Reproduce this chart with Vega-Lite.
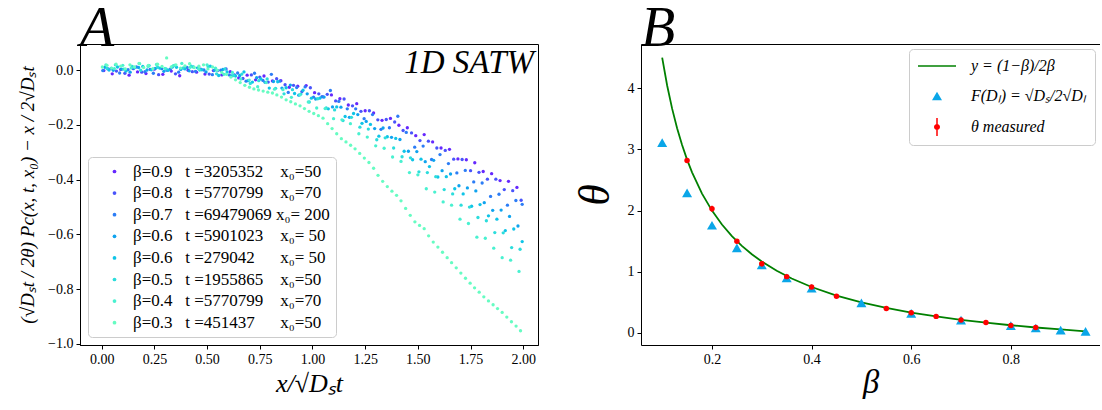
{
"$schema": "https://vega.github.io/schema/vega-lite/v6.json",
"background": "white",
"padding": {"left": 18, "top": 0, "right": 0, "bottom": 0},
"spacing": 34,
"resolve": {"scale": {"color": "independent", "shape": "independent", "x": "independent", "y": "independent"}, "legend": {"color": "independent", "shape": "independent"}},
"config": {
  "font": "Liberation Serif",
  "view": {"stroke": "#000", "strokeWidth": 1},
  "axis": {"grid": false, "domainColor": "#000", "tickColor": "#000", "labelColor": "#000", "titleColor": "#000", "labelFont": "Liberation Serif", "labelFontSize": 14, "tickSize": 4, "labelPadding": 3, "titleFont": "Liberation Serif", "titleFontWeight": "normal", "titleFontStyle": "italic"},
  "legend": {"labelFont": "Liberation Serif", "labelColor": "#000", "labelLimit": 500}
},
"hconcat": [
{
  "width": 458, "height": 301,
  "title": {"text": "A", "anchor": "start", "frame": "group", "fontSize": 56, "fontStyle": "italic", "fontWeight": "normal", "font": "Liberation Serif", "color": "#000", "offset": -14},
  "layer": [
  {
    "data": {"values": [
{"s":"a","x":0.01,"y":-0.001},{"s":"a","x":0.05,"y":-0.013},{"s":"a","x":0.09,"y":0.003},{"s":"a","x":0.13,"y":-0.018},{"s":"a","x":0.17,"y":-0.006},{"s":"a","x":0.21,"y":-0.012},{"s":"a","x":0.25,"y":0.004},{"s":"a","x":0.29,"y":-0.015},{"s":"a","x":0.33,"y":-0.003},{"s":"a","x":0.37,"y":-0.02},
{"s":"a","x":0.41,"y":0.0},{"s":"a","x":0.45,"y":-0.007},{"s":"a","x":0.49,"y":-0.014},{"s":"a","x":0.53,"y":-0.001},{"s":"a","x":0.57,"y":-0.017},{"s":"a","x":0.61,"y":-0.005},{"s":"a","x":0.65,"y":-0.028},{"s":"a","x":0.69,"y":-0.018},{"s":"a","x":0.73,"y":-0.035},{"s":"a","x":0.77,"y":-0.021},
{"s":"a","x":0.81,"y":-0.039},{"s":"a","x":0.85,"y":-0.038},{"s":"a","x":0.89,"y":-0.062},{"s":"a","x":0.93,"y":-0.058},{"s":"a","x":0.97,"y":-0.056},{"s":"a","x":1.01,"y":-0.082},{"s":"a","x":1.05,"y":-0.097},{"s":"a","x":1.09,"y":-0.09},{"s":"a","x":1.13,"y":-0.104},{"s":"a","x":1.17,"y":-0.127},
{"s":"a","x":1.21,"y":-0.122},{"s":"a","x":1.25,"y":-0.148},{"s":"a","x":1.29,"y":-0.156},{"s":"a","x":1.33,"y":-0.183},{"s":"a","x":1.37,"y":-0.176},{"s":"a","x":1.41,"y":-0.201},{"s":"a","x":1.45,"y":-0.21},{"s":"a","x":1.49,"y":-0.239},{"s":"a","x":1.53,"y":-0.235},{"s":"a","x":1.57,"y":-0.262},
{"s":"a","x":1.61,"y":-0.284},{"s":"a","x":1.65,"y":-0.289},{"s":"a","x":1.69,"y":-0.324},{"s":"a","x":1.73,"y":-0.327},{"s":"a","x":1.77,"y":-0.338},{"s":"a","x":1.81,"y":-0.37},{"s":"a","x":1.85,"y":-0.378},{"s":"a","x":1.89,"y":-0.403},{"s":"a","x":1.93,"y":-0.406},{"s":"a","x":1.97,"y":-0.428},
{"s":"b","x":0.03,"y":0.005},{"s":"b","x":0.07,"y":-0.003},{"s":"b","x":0.11,"y":-0.011},{"s":"b","x":0.15,"y":0.006},{"s":"b","x":0.19,"y":-0.007},{"s":"b","x":0.23,"y":0.003},{"s":"b","x":0.27,"y":-0.016},{"s":"b","x":0.31,"y":0.0},{"s":"b","x":0.35,"y":-0.013},{"s":"b","x":0.39,"y":0.008},
{"s":"b","x":0.43,"y":-0.005},{"s":"b","x":0.47,"y":0.004},{"s":"b","x":0.51,"y":-0.014},{"s":"b","x":0.55,"y":-0.001},{"s":"b","x":0.59,"y":0.005},{"s":"b","x":0.63,"y":-0.017},{"s":"b","x":0.67,"y":-0.03},{"s":"b","x":0.71,"y":-0.017},{"s":"b","x":0.75,"y":-0.025},{"s":"b","x":0.79,"y":-0.043},
{"s":"b","x":0.83,"y":-0.031},{"s":"b","x":0.87,"y":-0.053},{"s":"b","x":0.91,"y":-0.055},{"s":"b","x":0.95,"y":-0.078},{"s":"b","x":0.99,"y":-0.064},{"s":"b","x":1.03,"y":-0.086},{"s":"b","x":1.07,"y":-0.088},{"s":"b","x":1.11,"y":-0.112},{"s":"b","x":1.15,"y":-0.105},{"s":"b","x":1.19,"y":-0.13},
{"s":"b","x":1.23,"y":-0.15},{"s":"b","x":1.27,"y":-0.148},{"s":"b","x":1.31,"y":-0.181},{"s":"b","x":1.35,"y":-0.18},{"s":"b","x":1.39,"y":-0.189},{"s":"b","x":1.43,"y":-0.22},{"s":"b","x":1.47,"y":-0.229},{"s":"b","x":1.51,"y":-0.257},{"s":"b","x":1.55,"y":-0.259},{"s":"b","x":1.59,"y":-0.284},
{"s":"b","x":1.63,"y":-0.293},{"s":"b","x":1.67,"y":-0.325},{"s":"b","x":1.71,"y":-0.326},{"s":"b","x":1.75,"y":-0.367},{"s":"b","x":1.79,"y":-0.373},{"s":"b","x":1.83,"y":-0.398},{"s":"b","x":1.87,"y":-0.398},{"s":"b","x":1.91,"y":-0.436},{"s":"b","x":1.95,"y":-0.44},{"s":"b","x":1.99,"y":-0.475},
{"s":"c","x":0.005,"y":-0.001},{"s":"c","x":0.045,"y":0.007},{"s":"c","x":0.085,"y":-0.01},{"s":"c","x":0.125,"y":0.002},{"s":"c","x":0.165,"y":0.012},{"s":"c","x":0.205,"y":-0.005},{"s":"c","x":0.245,"y":-0.011},{"s":"c","x":0.285,"y":0.006},{"s":"c","x":0.325,"y":0.004},{"s":"c","x":0.365,"y":-0.007},
{"s":"c","x":0.405,"y":0.01},{"s":"c","x":0.445,"y":-0.004},{"s":"c","x":0.485,"y":0.001},{"s":"c","x":0.525,"y":-0.016},{"s":"c","x":0.565,"y":0.0},{"s":"c","x":0.605,"y":-0.017},{"s":"c","x":0.645,"y":-0.01},{"s":"c","x":0.685,"y":-0.04},{"s":"c","x":0.725,"y":-0.011},{"s":"c","x":0.765,"y":-0.037},
{"s":"c","x":0.805,"y":-0.015},{"s":"c","x":0.845,"y":-0.04},{"s":"c","x":0.885,"y":-0.081},{"s":"c","x":0.925,"y":-0.063},{"s":"c","x":0.965,"y":-0.061},{"s":"c","x":1.005,"y":-0.098},{"s":"c","x":1.045,"y":-0.096},{"s":"c","x":1.085,"y":-0.074},{"s":"c","x":1.125,"y":-0.114},{"s":"c","x":1.165,"y":-0.141},
{"s":"c","x":1.205,"y":-0.141},{"s":"c","x":1.245,"y":-0.177},{"s":"c","x":1.285,"y":-0.162},{"s":"c","x":1.325,"y":-0.216},{"s":"c","x":1.365,"y":-0.21},{"s":"c","x":1.405,"y":-0.168},{"s":"c","x":1.445,"y":-0.227},{"s":"c","x":1.485,"y":-0.281},{"s":"c","x":1.525,"y":-0.277},{"s":"c","x":1.565,"y":-0.326},
{"s":"c","x":1.605,"y":-0.308},{"s":"c","x":1.645,"y":-0.341},{"s":"c","x":1.685,"y":-0.375},{"s":"c","x":1.725,"y":-0.366},{"s":"c","x":1.765,"y":-0.408},{"s":"c","x":1.805,"y":-0.412},{"s":"c","x":1.845,"y":-0.461},{"s":"c","x":1.885,"y":-0.453},{"s":"c","x":1.925,"y":-0.493},{"s":"c","x":1.965,"y":-0.476},{"s":"c","x":1.995,"y":-0.49},
{"s":"d","x":0.015,"y":0.011},{"s":"d","x":0.055,"y":0.0},{"s":"d","x":0.095,"y":0.004},{"s":"d","x":0.135,"y":-0.007},{"s":"d","x":0.175,"y":0.01},{"s":"d","x":0.215,"y":0.001},{"s":"d","x":0.255,"y":0.007},{"s":"d","x":0.295,"y":-0.004},{"s":"d","x":0.335,"y":0.012},{"s":"d","x":0.375,"y":0.003},
{"s":"d","x":0.415,"y":-0.002},{"s":"d","x":0.455,"y":0.009},{"s":"d","x":0.495,"y":-0.006},{"s":"d","x":0.535,"y":0.0},{"s":"d","x":0.575,"y":0.003},{"s":"d","x":0.615,"y":-0.021},{"s":"d","x":0.655,"y":-0.019},{"s":"d","x":0.695,"y":-0.038},{"s":"d","x":0.735,"y":-0.027},{"s":"d","x":0.775,"y":-0.044},
{"s":"d","x":0.815,"y":-0.041},{"s":"d","x":0.855,"y":-0.065},{"s":"d","x":0.895,"y":-0.054},{"s":"d","x":0.935,"y":-0.091},{"s":"d","x":0.975,"y":-0.086},{"s":"d","x":1.015,"y":-0.105},{"s":"d","x":1.055,"y":-0.098},{"s":"d","x":1.095,"y":-0.134},{"s":"d","x":1.135,"y":-0.135},{"s":"d","x":1.175,"y":-0.172},
{"s":"d","x":1.215,"y":-0.162},{"s":"d","x":1.255,"y":-0.187},{"s":"d","x":1.295,"y":-0.213},{"s":"d","x":1.335,"y":-0.211},{"s":"d","x":1.375,"y":-0.245},{"s":"d","x":1.415,"y":-0.253},{"s":"d","x":1.455,"y":-0.296},{"s":"d","x":1.495,"y":-0.297},{"s":"d","x":1.535,"y":-0.334},{"s":"d","x":1.575,"y":-0.329},
{"s":"d","x":1.615,"y":-0.367},{"s":"d","x":1.655,"y":-0.379},{"s":"d","x":1.695,"y":-0.422},{"s":"d","x":1.735,"y":-0.43},{"s":"d","x":1.775,"y":-0.441},{"s":"d","x":1.815,"y":-0.484},{"s":"d","x":1.855,"y":-0.512},{"s":"d","x":1.895,"y":-0.511},{"s":"d","x":1.935,"y":-0.534},{"s":"d","x":1.975,"y":-0.569},
{"s":"e","x":0.035,"y":0.001},{"s":"e","x":0.075,"y":0.012},{"s":"e","x":0.115,"y":-0.003},{"s":"e","x":0.155,"y":0.009},{"s":"e","x":0.195,"y":0.014},{"s":"e","x":0.235,"y":0.002},{"s":"e","x":0.275,"y":0.008},{"s":"e","x":0.315,"y":0.0},{"s":"e","x":0.355,"y":0.011},{"s":"e","x":0.395,"y":0.005},
{"s":"e","x":0.435,"y":0.012},{"s":"e","x":0.475,"y":0.002},{"s":"e","x":0.515,"y":0.015},{"s":"e","x":0.555,"y":-0.019},{"s":"e","x":0.595,"y":-0.006},{"s":"e","x":0.635,"y":-0.021},{"s":"e","x":0.675,"y":-0.006},{"s":"e","x":0.715,"y":-0.043},{"s":"e","x":0.755,"y":-0.032},{"s":"e","x":0.795,"y":-0.065},
{"s":"e","x":0.835,"y":-0.042},{"s":"e","x":0.875,"y":-0.064},{"s":"e","x":0.915,"y":-0.085},{"s":"e","x":0.955,"y":-0.073},{"s":"e","x":0.995,"y":-0.102},{"s":"e","x":1.035,"y":-0.102},{"s":"e","x":1.075,"y":-0.141},{"s":"e","x":1.115,"y":-0.134},{"s":"e","x":1.155,"y":-0.169},{"s":"e","x":1.195,"y":-0.158},
{"s":"e","x":1.235,"y":-0.194},{"s":"e","x":1.275,"y":-0.198},{"s":"e","x":1.315,"y":-0.241},{"s":"e","x":1.355,"y":-0.243},{"s":"e","x":1.395,"y":-0.249},{"s":"e","x":1.435,"y":-0.296},{"s":"e","x":1.475,"y":-0.327},{"s":"e","x":1.515,"y":-0.325},{"s":"e","x":1.555,"y":-0.352},{"s":"e","x":1.595,"y":-0.39},
{"s":"e","x":1.635,"y":-0.389},{"s":"e","x":1.675,"y":-0.433},{"s":"e","x":1.715,"y":-0.452},{"s":"e","x":1.755,"y":-0.497},{"s":"e","x":1.795,"y":-0.491},{"s":"e","x":1.835,"y":-0.532},{"s":"e","x":1.875,"y":-0.544},{"s":"e","x":1.915,"y":-0.586},{"s":"e","x":1.955,"y":-0.58},{"s":"e","x":1.995,"y":-0.626},
{"s":"f","x":0.025,"y":0.007},{"s":"f","x":0.065,"y":0.02},{"s":"f","x":0.105,"y":0.004},{"s":"f","x":0.145,"y":0.014},{"s":"f","x":0.185,"y":0.0},{"s":"f","x":0.225,"y":0.017},{"s":"f","x":0.265,"y":0.011},{"s":"f","x":0.305,"y":0.005},{"s":"f","x":0.345,"y":0.018},{"s":"f","x":0.385,"y":0.008},
{"s":"f","x":0.425,"y":0.015},{"s":"f","x":0.465,"y":0.001},{"s":"f","x":0.505,"y":0.013},{"s":"f","x":0.545,"y":-0.013},{"s":"f","x":0.585,"y":0.005},{"s":"f","x":0.625,"y":-0.019},{"s":"f","x":0.665,"y":-0.014},{"s":"f","x":0.705,"y":-0.048},{"s":"f","x":0.745,"y":-0.038},{"s":"f","x":0.785,"y":-0.032},
{"s":"f","x":0.825,"y":-0.066},{"s":"f","x":0.865,"y":-0.086},{"s":"f","x":0.905,"y":-0.071},{"s":"f","x":0.945,"y":-0.087},{"s":"f","x":0.985,"y":-0.116},{"s":"f","x":1.025,"y":-0.104},{"s":"f","x":1.065,"y":-0.138},{"s":"f","x":1.105,"y":-0.145},{"s":"f","x":1.145,"y":-0.184},{"s":"f","x":1.185,"y":-0.172},
{"s":"f","x":1.225,"y":-0.208},{"s":"f","x":1.265,"y":-0.215},{"s":"f","x":1.305,"y":-0.254},{"s":"f","x":1.345,"y":-0.247},{"s":"f","x":1.385,"y":-0.284},{"s":"f","x":1.425,"y":-0.316},{"s":"f","x":1.465,"y":-0.32},{"s":"f","x":1.505,"y":-0.371},{"s":"f","x":1.545,"y":-0.374},{"s":"f","x":1.585,"y":-0.389},
{"s":"f","x":1.625,"y":-0.436},{"s":"f","x":1.665,"y":-0.452},{"s":"f","x":1.705,"y":-0.493},{"s":"f","x":1.745,"y":-0.5},{"s":"f","x":1.785,"y":-0.538},{"s":"f","x":1.825,"y":-0.55},{"s":"f","x":1.865,"y":-0.593},{"s":"f","x":1.905,"y":-0.594},{"s":"f","x":1.945,"y":-0.648},{"s":"f","x":1.985,"y":-0.654},
{"s":"g","x":0.02,"y":0.02},{"s":"g","x":0.06,"y":0.006},{"s":"g","x":0.1,"y":0.018},{"s":"g","x":0.14,"y":0.008},{"s":"g","x":0.18,"y":0.024},{"s":"g","x":0.22,"y":0.014},{"s":"g","x":0.26,"y":0.021},{"s":"g","x":0.3,"y":0.007},{"s":"g","x":0.34,"y":0.017},{"s":"g","x":0.38,"y":0.025},
{"s":"g","x":0.42,"y":0.011},{"s":"g","x":0.46,"y":0.006},{"s":"g","x":0.5,"y":0.02},{"s":"g","x":0.54,"y":0.008},{"s":"g","x":0.58,"y":-0.015},{"s":"g","x":0.62,"y":-0.008},{"s":"g","x":0.66,"y":-0.032},{"s":"g","x":0.7,"y":-0.036},{"s":"g","x":0.74,"y":-0.06},{"s":"g","x":0.78,"y":-0.045},
{"s":"g","x":0.82,"y":-0.069},{"s":"g","x":0.86,"y":-0.071},{"s":"g","x":0.9,"y":-0.099},{"s":"g","x":0.94,"y":-0.09},{"s":"g","x":0.98,"y":-0.116},{"s":"g","x":1.02,"y":-0.138},{"s":"g","x":1.06,"y":-0.14},{"s":"g","x":1.1,"y":-0.177},{"s":"g","x":1.14,"y":-0.181},{"s":"g","x":1.18,"y":-0.195},
{"s":"g","x":1.22,"y":-0.232},{"s":"g","x":1.26,"y":-0.244},{"s":"g","x":1.3,"y":-0.276},{"s":"g","x":1.34,"y":-0.285},{"s":"g","x":1.38,"y":-0.317},{"s":"g","x":1.42,"y":-0.333},{"s":"g","x":1.46,"y":-0.374},{"s":"g","x":1.5,"y":-0.382},{"s":"g","x":1.54,"y":-0.433},{"s":"g","x":1.58,"y":-0.445},
{"s":"g","x":1.62,"y":-0.481},{"s":"g","x":1.66,"y":-0.493},{"s":"g","x":1.7,"y":-0.544},{"s":"g","x":1.74,"y":-0.56},{"s":"g","x":1.78,"y":-0.61},{"s":"g","x":1.82,"y":-0.614},{"s":"g","x":1.86,"y":-0.65},{"s":"g","x":1.9,"y":-0.685},{"s":"g","x":1.94,"y":-0.694},{"s":"g","x":1.98,"y":-0.735},
{"s":"h","x":0.003,"y":0.012},{"s":"h","x":0.025,"y":0.018},{"s":"h","x":0.047,"y":0.008},{"s":"h","x":0.068,"y":0.022},{"s":"h","x":0.09,"y":0.015},{"s":"h","x":0.112,"y":0.005},{"s":"h","x":0.134,"y":0.02},{"s":"h","x":0.156,"y":0.012},{"s":"h","x":0.177,"y":0.025},{"s":"h","x":0.199,"y":0.01},
{"s":"h","x":0.221,"y":0.018},{"s":"h","x":0.243,"y":0.006},{"s":"h","x":0.265,"y":0.022},{"s":"h","x":0.286,"y":0.014},{"s":"h","x":0.308,"y":0.045},{"s":"h","x":0.33,"y":0.012},{"s":"h","x":0.352,"y":0.02},{"s":"h","x":0.374,"y":0.008},{"s":"h","x":0.395,"y":0.016},{"s":"h","x":0.417,"y":0.024},
{"s":"h","x":0.439,"y":0.01},{"s":"h","x":0.461,"y":0.015},{"s":"h","x":0.483,"y":0.02},{"s":"h","x":0.504,"y":0.005},{"s":"h","x":0.526,"y":0.012},{"s":"h","x":0.548,"y":0.0},{"s":"h","x":0.57,"y":-0.008},{"s":"h","x":0.592,"y":-0.015},{"s":"h","x":0.613,"y":-0.025},{"s":"h","x":0.635,"y":-0.035},
{"s":"h","x":0.657,"y":-0.045},{"s":"h","x":0.679,"y":-0.055},{"s":"h","x":0.701,"y":-0.062},{"s":"h","x":0.722,"y":-0.068},{"s":"h","x":0.744,"y":-0.072},{"s":"h","x":0.766,"y":-0.076},{"s":"h","x":0.788,"y":-0.08},{"s":"h","x":0.81,"y":-0.083},{"s":"h","x":0.831,"y":-0.09},{"s":"h","x":0.853,"y":-0.098},
{"s":"h","x":0.875,"y":-0.108},{"s":"h","x":0.897,"y":-0.115},{"s":"h","x":0.919,"y":-0.123},{"s":"h","x":0.941,"y":-0.13},{"s":"h","x":0.962,"y":-0.14},{"s":"h","x":0.984,"y":-0.15},{"s":"h","x":1.006,"y":-0.158},{"s":"h","x":1.028,"y":-0.166},{"s":"h","x":1.05,"y":-0.175},{"s":"h","x":1.072,"y":-0.195},
{"s":"h","x":1.093,"y":-0.213},{"s":"h","x":1.115,"y":-0.232},{"s":"h","x":1.137,"y":-0.25},{"s":"h","x":1.159,"y":-0.262},{"s":"h","x":1.181,"y":-0.274},{"s":"h","x":1.202,"y":-0.287},{"s":"h","x":1.224,"y":-0.304},{"s":"h","x":1.246,"y":-0.321},{"s":"h","x":1.268,"y":-0.337},{"s":"h","x":1.29,"y":-0.358},
{"s":"h","x":1.311,"y":-0.384},{"s":"h","x":1.333,"y":-0.406},{"s":"h","x":1.355,"y":-0.425},{"s":"h","x":1.377,"y":-0.442},{"s":"h","x":1.399,"y":-0.457},{"s":"h","x":1.42,"y":-0.477},{"s":"h","x":1.442,"y":-0.505},{"s":"h","x":1.464,"y":-0.53},{"s":"h","x":1.486,"y":-0.554},{"s":"h","x":1.508,"y":-0.567},
{"s":"h","x":1.53,"y":-0.579},{"s":"h","x":1.551,"y":-0.605},{"s":"h","x":1.573,"y":-0.628},{"s":"h","x":1.595,"y":-0.646},{"s":"h","x":1.617,"y":-0.665},{"s":"h","x":1.639,"y":-0.685},{"s":"h","x":1.66,"y":-0.703},{"s":"h","x":1.682,"y":-0.722},{"s":"h","x":1.704,"y":-0.741},{"s":"h","x":1.726,"y":-0.76},
{"s":"h","x":1.748,"y":-0.778},{"s":"h","x":1.769,"y":-0.795},{"s":"h","x":1.791,"y":-0.811},{"s":"h","x":1.813,"y":-0.828},{"s":"h","x":1.835,"y":-0.843},{"s":"h","x":1.857,"y":-0.857},{"s":"h","x":1.878,"y":-0.871},{"s":"h","x":1.9,"y":-0.885},{"s":"h","x":1.922,"y":-0.902},{"s":"h","x":1.944,"y":-0.919},
{"s":"h","x":1.966,"y":-0.935},{"s":"h","x":1.987,"y":-0.952}
    ]},
    "mark": {"type": "point", "filled": true, "size": 11, "opacity": 1},
    "encoding": {
      "x": {"field": "x", "type": "quantitative", "scale": {"domain": [-0.103, 2.07], "nice": false, "zero": false},
            "axis": {"values": [0, 0.25, 0.5, 0.75, 1, 1.25, 1.5, 1.75, 2], "format": ".2f", "title": "x/√Dₛt", "titleFontSize": 26, "titlePadding": 4}},
      "y": {"field": "y", "type": "quantitative", "scale": {"domain": [-1.004, 0.096], "nice": false, "zero": false},
            "axis": {"values": [-1, -0.8, -0.6, -0.4, -0.2, 0], "format": ".1f", "title": "(√Dₛt / 2θ) Pc(x, t, x₀) − x / 2√Dₛt", "titleFontSize": 19, "titlePadding": 10}},
      "color": {"field": "s", "type": "nominal",
        "scale": {"domain": ["a","b","c","d","e","f","g","h"], "range": ["#6628fe","#4954fb","#2c7df6","#0fa3ef","#0fc4e7","#2cdddc","#49f1d0","#66fcc2"]},
        "legend": {"title": null, "orient": "bottom-left", "offset": 8, "symbolType": "circle", "symbolSize": 14, "labelFontSize": 17, "rowPadding": 3.6, "padding": 6, "symbolOffset": 12, "labelOffset": 10, "fillColor": "white", "strokeColor": "#cccccc", "cornerRadius": 4,
          "labelExpr": "datum.value=='a'?'β=0.9\u00a0\u00a0\u00a0t\u00a0=3205352\u00a0\u00a0\u00a0\u00a0x₀=50':datum.value=='b'?'β=0.8\u00a0\u00a0\u00a0t\u00a0=5770799\u00a0\u00a0\u00a0\u00a0x₀=70':datum.value=='c'?'β=0.7\u00a0\u00a0\u00a0t\u00a0=69479069\u00a0x₀=\u00a0200':datum.value=='d'?'β=0.6\u00a0\u00a0\u00a0t\u00a0=5901023\u00a0\u00a0\u00a0\u00a0x₀=\u00a050':datum.value=='e'?'β=0.6\u00a0\u00a0\u00a0t\u00a0=279042\u00a0\u00a0\u00a0\u00a0\u00a0\u00a0x₀=\u00a050':datum.value=='f'?'β=0.5\u00a0\u00a0\u00a0t\u00a0=1955865\u00a0\u00a0\u00a0\u00a0x₀=50':datum.value=='g'?'β=0.4\u00a0\u00a0\u00a0t\u00a0=5770799\u00a0\u00a0\u00a0\u00a0x₀=70':'β=0.3\u00a0\u00a0\u00a0t\u00a0=451437\u00a0\u00a0\u00a0\u00a0\u00a0\u00a0x₀=50'"}}
    }
  },
  {
    "data": {"values": [{}]},
    "mark": {"type": "text", "text": "1D SATW", "font": "Liberation Serif", "fontStyle": "italic", "fontSize": 33, "align": "right", "baseline": "alphabetic", "color": "#000"},
    "encoding": {"x": {"datum": 2.051, "type": "quantitative"}, "y": {"datum": -0.011, "type": "quantitative"}}
  }
  ]
},
{
  "width": 459, "height": 301,
  "view": {"stroke": null},
  "title": {"text": "B", "anchor": "start", "frame": "group", "fontSize": 56, "fontStyle": "italic", "fontWeight": "normal", "font": "Liberation Serif", "color": "#000", "offset": -14},
  "layer": [
  {
    "data": {"values": [
{"b":0.1,"v":4.5},{"b":0.11,"v":4.045},{"b":0.12,"v":3.667},{"b":0.13,"v":3.346},{"b":0.14,"v":3.071},{"b":0.15,"v":2.833},{"b":0.16,"v":2.625},{"b":0.18,"v":2.278},{"b":0.2,"v":2.0},{"b":0.22,"v":1.773},
{"b":0.24,"v":1.583},{"b":0.26,"v":1.423},{"b":0.28,"v":1.286},{"b":0.3,"v":1.167},{"b":0.33,"v":1.015},{"b":0.36,"v":0.889},{"b":0.4,"v":0.75},{"b":0.45,"v":0.611},{"b":0.5,"v":0.5},{"b":0.55,"v":0.409},
{"b":0.6,"v":0.333},{"b":0.65,"v":0.269},{"b":0.7,"v":0.214},{"b":0.75,"v":0.167},{"b":0.8,"v":0.125},{"b":0.85,"v":0.088},{"b":0.9,"v":0.056},{"b":0.95,"v":0.026}
    ]},
    "mark": {"type": "line", "strokeWidth": 1.8, "color": "#008000"},
    "encoding": {
      "x": {"field": "b", "type": "quantitative", "scale": {"domain": [0.0575, 0.979], "nice": false, "zero": false},
            "axis": {"orient": "top", "labels": false, "ticks": false, "domain": true, "title": null}},
      "y": {"field": "v", "type": "quantitative", "scale": {"domain": [-0.198, 4.724], "nice": false, "zero": false},
            "axis": {"values": [0, 1, 2, 3, 4], "format": "d", "title": "θ", "titleFontSize": 44, "titlePadding": 10}}
    }
  },
  {
    "layer": [
    {
      "data": {"values": [
{"s":"F","b":0.1,"v":3.11},{"s":"F","b":0.15,"v":2.29},{"s":"F","b":0.2,"v":1.76},{"s":"F","b":0.25,"v":1.39},{"s":"F","b":0.3,"v":1.11},{"s":"F","b":0.35,"v":0.9},{"s":"F","b":0.4,"v":0.73},
{"s":"F","b":0.5,"v":0.49},{"s":"F","b":0.6,"v":0.32},{"s":"F","b":0.7,"v":0.21},{"s":"F","b":0.8,"v":0.12},{"s":"F","b":0.85,"v":0.08},{"s":"F","b":0.9,"v":0.045},{"s":"F","b":0.95,"v":0.025}
      ]},
      "mark": {"type": "point", "filled": true, "size": 100, "opacity": 1},
      "encoding": {
        "x": {"field": "b", "type": "quantitative", "axis": {"orient": "bottom", "values": [0.2, 0.4, 0.6, 0.8], "format": ".1f", "title": "β", "titleFontSize": 33, "titlePadding": 0}},
        "y": {"field": "v", "type": "quantitative"},
        "color": {"field": "s", "type": "nominal", "scale": {"domain": ["L", "F", "M"], "range": ["#008000", "#0aa6e8", "#ff0000"]},
          "legend": {"title": null, "orient": "top-right", "offset": 5, "symbolSize": 100, "labelFontSize": 16, "labelFontStyle": "italic", "rowPadding": 14, "padding": 9, "symbolOffset": 11, "labelOffset": 26, "fillColor": "white", "strokeColor": "#cccccc", "cornerRadius": 4,
            "labelExpr": "datum.value=='L'?'y = (1−β)/2β':datum.value=='F'?'F(Dₗ) = √Dₛ/2√Dₗ':'θ  measured'"}},
        "shape": {"field": "s", "type": "nominal",
          "scale": {"domain": ["L", "F", "M"], "range": ["M-3.8,-0.16H3.8V0.16H-3.8Z", "triangle-up", "M-0.15,-1.8H0.15V1.8H-0.15Z M0.6,0A0.6,0.6 0 1,1 -0.6,0A0.6,0.6 0 1,1 0.6,0Z"]},
          "legend": {"title": null, "orient": "top-right", "offset": 5, "symbolSize": 100, "labelFontSize": 16, "labelFontStyle": "italic", "rowPadding": 14, "padding": 9, "symbolOffset": 11, "labelOffset": 26, "fillColor": "white", "strokeColor": "#cccccc", "cornerRadius": 4,
            "labelExpr": "datum.value=='L'?'y = (1−β)/2β':datum.value=='F'?'F(Dₗ) = √Dₛ/2√Dₗ':'θ  measured'"}}
      }
    },
    {
      "data": {"name": "meas", "values": [
{"b":0.15,"v":2.82,"lo":2.79,"hi":2.85},{"b":0.2,"v":2.03,"lo":1.98,"hi":2.08},{"b":0.25,"v":1.5,"lo":1.47,"hi":1.53},{"b":0.3,"v":1.13,"lo":1.09,"hi":1.17},
{"b":0.35,"v":0.92,"lo":0.89,"hi":0.95},{"b":0.4,"v":0.75,"lo":0.72,"hi":0.78},{"b":0.45,"v":0.6,"lo":0.58,"hi":0.62},{"b":0.55,"v":0.4,"lo":0.38,"hi":0.42},
{"b":0.6,"v":0.33,"lo":0.3,"hi":0.36},{"b":0.65,"v":0.27,"lo":0.25,"hi":0.29},{"b":0.7,"v":0.21,"lo":0.18,"hi":0.24},{"b":0.75,"v":0.17,"lo":0.15,"hi":0.19},
{"b":0.8,"v":0.12,"lo":0.09,"hi":0.15},{"b":0.85,"v":0.09,"lo":0.06,"hi":0.12}
      ]},
      "mark": {"type": "rule", "strokeWidth": 1.5, "color": "#ff0000"},
      "encoding": {
        "x": {"field": "b", "type": "quantitative"},
        "y": {"field": "lo", "type": "quantitative"},
        "y2": {"field": "hi"}
      }
    },
    {
      "data": {"name": "meas"},
      "mark": {"type": "circle", "size": 30, "opacity": 1, "color": "#ff0000"},
      "encoding": {
        "x": {"field": "b", "type": "quantitative"},
        "y": {"field": "v", "type": "quantitative"}
      }
    }
    ]
  }
  ]
}
]
}
